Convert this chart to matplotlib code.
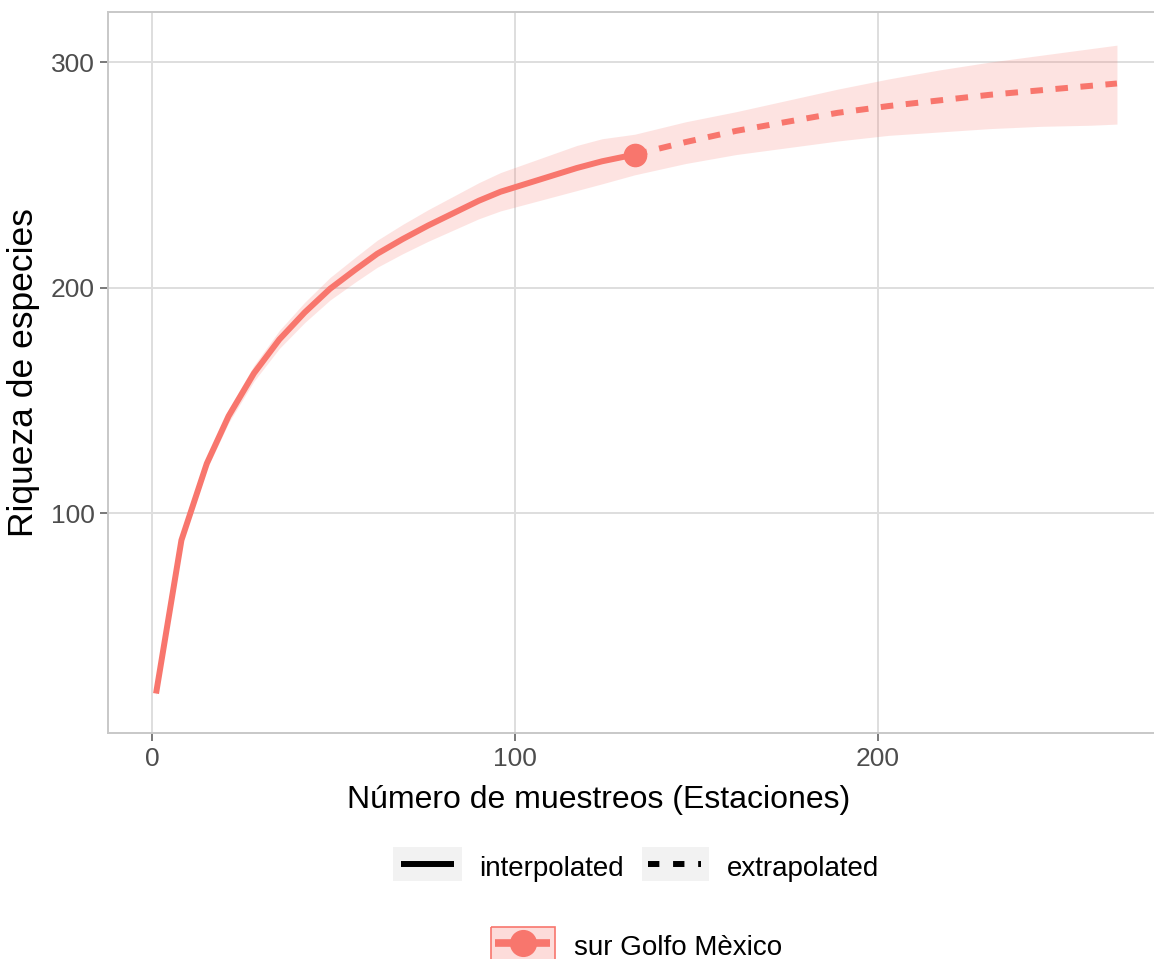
import matplotlib.pyplot as plt
from matplotlib.patches import Rectangle
from matplotlib.lines import Line2D

plt.rcParams['font.family'] = ['Liberation Sans', 'DejaVu Sans']

# ================= datos =================
# parte interpolada (hasta la muestra de referencia)
x_interp = [1, 8, 15, 21, 28, 35, 42, 49, 56, 62, 69, 76, 83, 90, 96, 103, 110, 117, 124, 133]
s_interp = [20, 88, 122, 143, 162, 177, 189, 199.5, 208, 215, 221.5, 227.5, 233, 238.5, 242.5,
            246, 249.5, 253, 256, 259]
lo_interp = [19, 86, 119.5, 140, 158.5, 173, 184.5, 194.5, 202.5, 209, 215, 220.5, 225.5, 230.5,
             234, 237, 240, 243, 246, 250]
hi_interp = [21, 90, 124.5, 146, 165.5, 181, 193.5, 204.5, 213.5, 221, 228, 234.5, 240.5, 246.5,
             251, 255, 259, 263, 266, 268]

# parte extrapolada
x_extrap = [133, 147, 161, 175, 189, 203, 217, 231, 245, 259, 266]
s_extrap = [259, 264.5, 269.5, 273.5, 277.5, 280.5, 283, 285.5, 287.5, 289.5, 290.5]
lo_extrap = [250, 255, 259, 262, 265, 267.5, 269, 270.5, 271.5, 272, 272.5]
hi_extrap = [268, 273.5, 278, 283, 288, 292.5, 296.5, 300, 303, 306, 307.5]

ref_x = 133
ref_s = 259
etiqueta = 'sur Golfo Mèxico'
# ===============================================================

W, H = 1154, 959
ROJO = '#F8766D'

fig = plt.figure(figsize=(W / 100, H / 100), dpi=100)

# panel (se extiende un poco más allá del borde derecho, como en el original)
left, right, top, bottom = 108, 1165, 12, 733
ax = fig.add_axes([left / W, 1 - bottom / H, (right - left) / W, (bottom - top) / H])

x_all = x_interp + x_extrap[1:]
lo_all = lo_interp + lo_extrap[1:]
hi_all = hi_interp + hi_extrap[1:]

ax.fill_between(x_all, lo_all, hi_all, color=ROJO, alpha=0.2, linewidth=0, zorder=2)
ax.plot(x_interp, s_interp, color=ROJO, lw=4.3, solid_capstyle='butt', zorder=3)
ax.plot(x_extrap, s_extrap, color=ROJO, lw=4.3, linestyle=(0, (2.1, 2.1)),
        dash_capstyle='butt', zorder=3)
ax.plot([ref_x], [ref_s], 'o', color=ROJO, markersize=16, zorder=4)

ax.set_xlim(-12.25, 279.25)
ax.set_ylim(2.5, 322.2)
ax.set_xticks([0, 100, 200])
ax.set_yticks([100, 200, 300])

ax.grid(True, color='#DEDEDE', lw=1.4, zorder=0)
ax.set_axisbelow(True)
for s in ax.spines.values():
    s.set_color('#C8C8C8')
    s.set_linewidth(1.4)
ax.tick_params(axis='both', length=5.8, width=1.1, color='#555555',
               labelsize=19, labelcolor='#4D4D4D')
ax.tick_params(axis='x', pad=4)
ax.tick_params(axis='y', pad=3.6)

# capa en píxeles para títulos y leyendas
ov = fig.add_axes([0, 0, 1, 1], zorder=5)
ov.set_xlim(0, W)
ov.set_ylim(H, 0)
ov.axis('off')

ov.text(599, 808, 'Número de muestreos (Estaciones)', fontsize=23, ha='center', va='baseline')
ov.text(24, 373, 'Riqueza de especies', fontsize=25.5, rotation=90, ha='center', va='center')

# leyenda de tipo de línea
ov.add_patch(Rectangle((393, 847), 69, 34, facecolor='#F2F2F2', edgecolor='none'))
ov.add_line(Line2D([401, 454], [864, 864], color='black', lw=4.3, solid_capstyle='butt'))
ov.text(479, 876, 'interpolated', fontsize=20, ha='left', va='baseline')

ov.add_patch(Rectangle((642, 847), 67, 34, facecolor='#F2F2F2', edgecolor='none'))
ov.add_line(Line2D([648, 701], [864, 864], color='black', lw=4.3,
                   linestyle=(0, (1.9, 2.3)), dash_capstyle='butt'))
ov.text(727, 876, 'extrapolated', fontsize=20, ha='left', va='baseline')

# leyenda del sitio
ov.add_patch(Rectangle((491, 927), 64, 34, facecolor=ROJO, alpha=0.25, edgecolor='none'))
ov.add_patch(Rectangle((491, 927), 64, 34, facecolor='none', edgecolor=ROJO, lw=1.2))
ov.add_line(Line2D([495, 550], [943, 943], color=ROJO, lw=5.5, solid_capstyle='butt'))
ov.add_line(Line2D([523], [943], color=ROJO, marker='o', markersize=18.5, linestyle='None'))
ov.text(574, 955, etiqueta, fontsize=20, ha='left', va='baseline')

fig.savefig('out.png', dpi=100)
